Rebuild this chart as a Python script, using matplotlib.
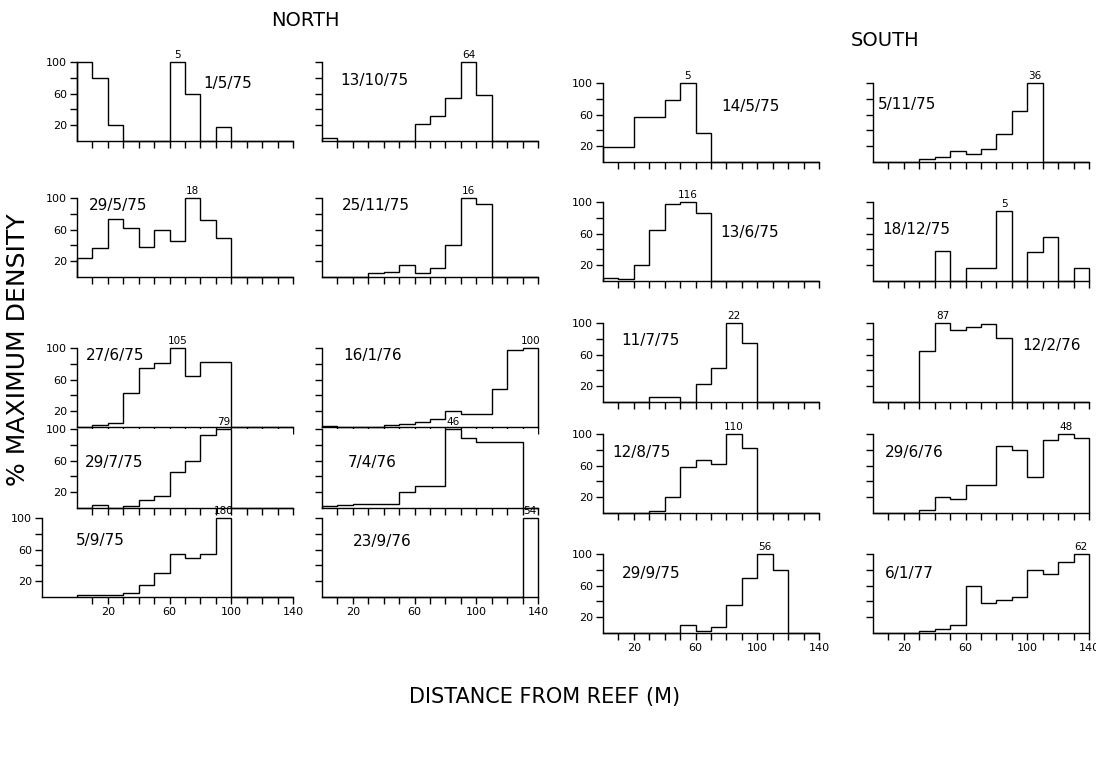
import matplotlib.pyplot as plt
import numpy as np

# distance bins (m)
bin_edges = np.arange(0, 150, 10)

# % maximum density per 10 m bin, NORTH transect
n_010575 = [100, 80, 20, 0, 0, 0, 100, 60, 0, 18, 0, 0, 0, 0]
n_131075 = [4, 0, 0, 0, 0, 0, 21, 32, 54, 100, 58, 0, 0, 0]
n_290575 = [24, 37, 74, 62, 38, 60, 45, 100, 72, 49, 0, 0, 0, 0]
n_251175 = [0, 0, 0, 5, 6, 15, 5, 12, 41, 100, 93, 0, 0, 0]
n_270675 = [0, 2, 5, 43, 75, 81, 100, 64, 82, 82, 0, 0, 0, 0]
n_160176 = [1, 0, 0, 0, 3, 4, 6, 10, 20, 16, 16, 48, 98, 100]
n_290775 = [0, 4, 0, 3, 10, 15, 45, 60, 93, 100, 0, 0, 0, 0]
n_070476 = [2, 4, 5, 5, 5, 20, 28, 28, 100, 88, 84, 84, 84, 0]
n_050975 = [3, 2, 3, 5, 15, 30, 55, 50, 55, 100, 0, 0, 0, 0]
n_230976 = [0, 0, 0, 0, 0, 0, 0, 0, 0, 0, 0, 0, 0, 100]

# SOUTH transect
s_140575 = [19, 19, 57, 57, 78, 100, 37, 0, 0, 0, 0, 0, 0, 0]
s_051175 = [0, 0, 0, 4, 6, 14, 10, 17, 36, 65, 100, 0, 0, 0]
s_130675 = [4, 2, 20, 64, 97, 100, 86, 0, 0, 0, 0, 0, 0, 0]
s_181275 = [0, 0, 0, 0, 38, 0, 16, 16, 88, 0, 37, 56, 0, 16]
s_110775 = [0, 0, 0, 6, 6, 0, 23, 43, 100, 75, 0, 0, 0, 0]
s_120276 = [0, 0, 0, 65, 100, 91, 95, 99, 81, 0, 0, 0, 0, 0]
s_120875 = [0, 0, 0, 3, 20, 58, 67, 62, 100, 82, 0, 0, 0, 0]
s_290676 = [0, 0, 0, 4, 20, 18, 35, 35, 85, 80, 45, 92, 100, 95]
s_290975 = [0, 0, 0, 0, 0, 10, 3, 8, 35, 70, 100, 80, 0, 0]
s_060177 = [0, 0, 0, 2, 5, 10, 60, 38, 42, 45, 80, 75, 90, 100]

# rows x columns (cols 1-2 north, 3-4 south)
panel_data = [
    [n_010575, n_131075, s_140575, s_051175],
    [n_290575, n_251175, s_130675, s_181275],
    [n_270675, n_160176, s_110775, s_120276],
    [n_290775, n_070476, s_120875, s_290676],
    [n_050975, n_230976, s_290975, s_060177],
]
panel_dates = [
    ["1/5/75", "13/10/75", "14/5/75", "5/11/75"],
    ["29/5/75", "25/11/75", "13/6/75", "18/12/75"],
    ["27/6/75", "16/1/76", "11/7/75", "12/2/76"],
    ["29/7/75", "7/4/76", "12/8/75", "29/6/76"],
    ["5/9/75", "23/9/76", "29/9/75", "6/1/77"],
]
# count at maximum density, and the bin it belongs to
peak_counts = [
    [5, 64, 5, 36],
    [18, 16, 116, 5],
    [105, 100, 22, 87],
    [79, 46, 110, 48],
    [180, 54, 56, 62],
]
peak_bins = [
    [6, 9, 5, 10],
    [7, 9, 5, 8],
    [6, 13, 8, 4],
    [9, 8, 8, 12],
    [9, 13, 10, 13],
]
x_ticklabels = [20, 60, 100, 140]
y_ticklabels = [20, 60, 100]

# layout (pixels) ------------------------------------------------------
W, H = 1096, 759
col_left = [77, 322, 603, 873]
col_width = 216
px_per_m = col_width / 140
base_north = [141, 277, 427, 508, 597]
base_south = [162, 281, 402, 513, 633]
panel_h = 79
# the lower left panel has its y axis drawn further left
axis_left_override = {(4, 0): 42}
# where the date text sits (x in m, y in %)
date_pos = [
    [(82, 73), (12, 76), (77, 70), (3, 73)],
    [(8, 91), (13, 90), (76, 61), (6, 65)],
    [(6, 91), (14, 90), (12, 78), (97, 72)],
    [(5, 58), (17, 57), (6, 76), (8, 76)],
    [(-1, 72), (20, 70), (12, 75), (8, 75)],
]

fig = plt.figure(figsize=(W / 100, H / 100), dpi=100)

for r in range(5):
    for c in range(4):
        base = base_north[r] if c < 2 else base_south[r]
        left = axis_left_override.get((r, c), col_left[c])
        right = col_left[c] + col_width
        xmin = -(col_left[c] - left) / px_per_m
        ax = fig.add_axes([left / W, 1 - base / H,
                           (right - left) / W, panel_h / H])
        vals = np.array(panel_data[r][c])
        ax.stairs(vals, bin_edges, baseline=0, color="black", lw=1.0,
                  clip_on=False)
        ax.set_xlim(xmin, 140)
        ax.set_ylim(0, 100)
        for s in ["top", "right"]:
            ax.spines[s].set_visible(False)
        for s in ["left", "bottom"]:
            ax.spines[s].set_linewidth(1.0)
        ax.set_xticks(np.arange(10, 150, 10))
        ax.set_yticks(np.arange(20, 120, 20))
        ax.tick_params(direction="out", length=5, width=1.0, labelsize=8,
                       pad=2)
        if r == 4:
            ax.set_xticklabels([str(t) if t in x_ticklabels else ""
                                for t in range(10, 150, 10)])
        else:
            ax.set_xticklabels([])
        if c in (0, 2):
            ax.set_yticklabels([str(t) if t in y_ticklabels else ""
                                for t in range(20, 120, 20)])
        else:
            ax.set_yticklabels([])
        # date of sampling
        dx, dy = date_pos[r][c]
        ax.text(dx, dy, panel_dates[r][c], fontsize=11, ha="left",
                va="center")
        # maximum density count above the peak bar
        k = peak_bins[r][c]
        ax.text(bin_edges[k] + 5, vals[k] + 3, str(peak_counts[r][c]),
                fontsize=7.5, ha="center", va="bottom", clip_on=False)

fig.text(305 / W, 1 - 20 / H, "NORTH", fontsize=14, ha="center",
         va="center")
fig.text(885 / W, 1 - 40 / H, "SOUTH", fontsize=14, ha="center",
         va="center")
fig.text(18 / W, 1 - 350 / H, "% MAXIMUM DENSITY", fontsize=18,
         rotation=90, ha="center", va="center")
fig.text(545 / W, 1 - 697 / H, "DISTANCE FROM REEF (M)", fontsize=15,
         ha="center", va="center")

fig.savefig("out.png", dpi=100, facecolor="white")
